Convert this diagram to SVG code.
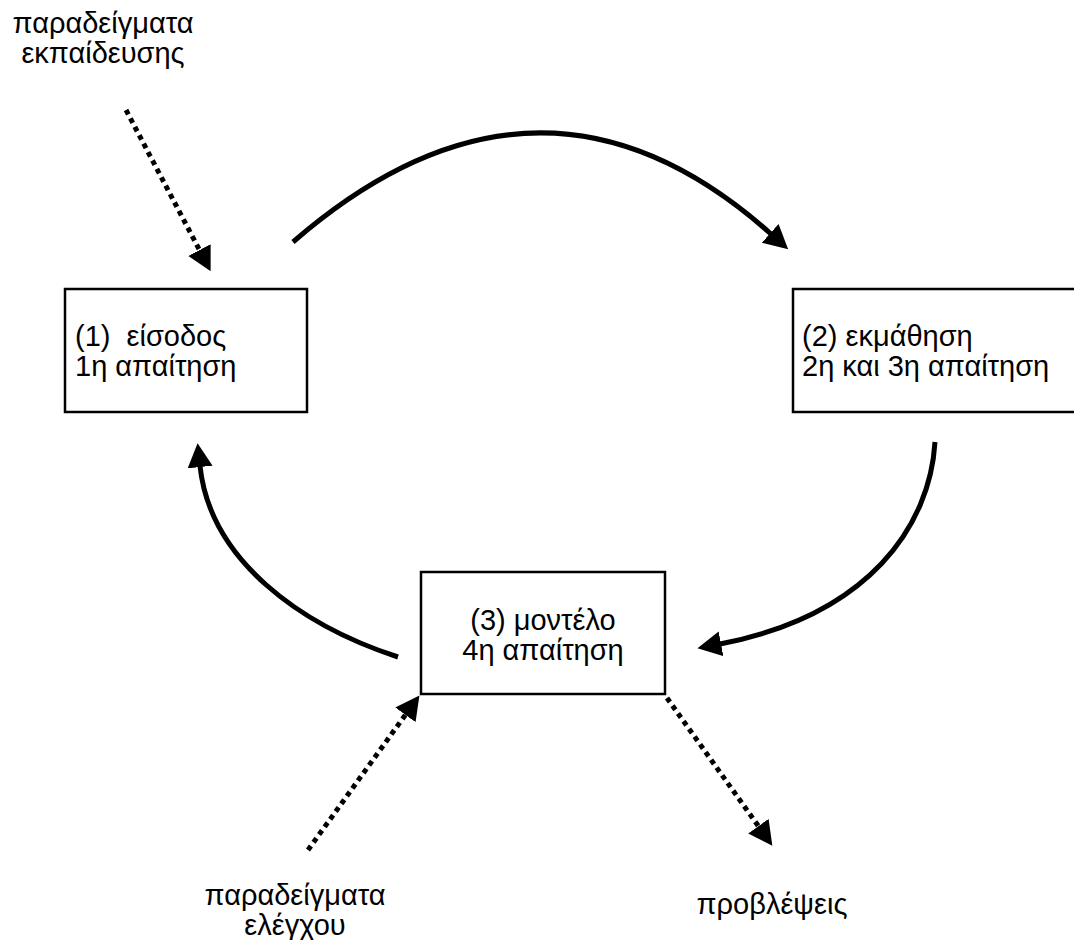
<svg xmlns="http://www.w3.org/2000/svg" width="1074" height="940" viewBox="0 0 1074 940">
  <style>
    .box { fill: #ffffff; stroke: #000000; stroke-width: 2.5; }
    .txt { font-family: "Liberation Sans", Arial, sans-serif; font-size: 29px; fill: #000000; }
    .mid { text-anchor: middle; }
    .flow { fill: none; stroke: #000000; stroke-width: 5; }
    .dots { fill: none; stroke: #000000; stroke-width: 5; stroke-dasharray: 5 4.5; }
  </style>
  <defs>
    <marker id="head" markerUnits="userSpaceOnUse" markerWidth="24" markerHeight="26" viewBox="0 0 23 24" refX="1" refY="12" orient="auto">
      <path d="M0,0 L23,12 L0,24 Z" fill="#000000"/>
    </marker>
  </defs>
  <rect width="1074" height="940" fill="#ffffff"/>

  <!-- cycle and data-flow connectors -->
  <g id="connectors">
    <path class="flow" d="M293,242 Q540,28 771,234" marker-end="url(#head)"/>
    <path class="flow" d="M935,442 C930,525 870,615 720,644" marker-end="url(#head)"/>
    <path class="flow" d="M398,657 C300,625 210,560 200,466" marker-end="url(#head)"/>
    <path class="dots" d="M126,110 L200,251" marker-end="url(#head)"/>
    <path class="dots" d="M308,850 L406,714" marker-end="url(#head)"/>
    <path class="dots" d="M667,698 L759,827" marker-end="url(#head)"/>
  </g>

  <!-- nodes -->
  <g id="node-input">
    <rect class="box" x="65" y="289" width="242" height="123"/>
    <text class="txt" x="75" y="346" xml:space="preserve">(1)  είσοδος</text>
    <text class="txt" x="75" y="376">1η απαίτηση</text>
  </g>
  <g id="node-learning">
    <rect class="box" x="793" y="289" width="290" height="123"/>
    <text class="txt" x="802" y="346">(2) εκμάθηση</text>
    <text class="txt" x="802" y="376">2η και 3η απαίτηση</text>
  </g>
  <g id="node-model">
    <rect class="box" x="421" y="572" width="244" height="122"/>
    <text class="txt mid" x="543" y="630">(3) μοντέλο</text>
    <text class="txt mid" x="543" y="660">4η απαίτηση</text>
  </g>

  <!-- free labels -->
  <g id="label-training">
    <text class="txt mid" x="103" y="33">παραδείγματα</text>
    <text class="txt mid" x="103" y="63">εκπαίδευσης</text>
  </g>
  <g id="label-testing">
    <text class="txt mid" x="295" y="905">παραδείγματα</text>
    <text class="txt mid" x="295" y="935">ελέγχου</text>
  </g>
  <g id="label-predictions">
    <text class="txt mid" x="772" y="914">προβλέψεις</text>
  </g>
</svg>
